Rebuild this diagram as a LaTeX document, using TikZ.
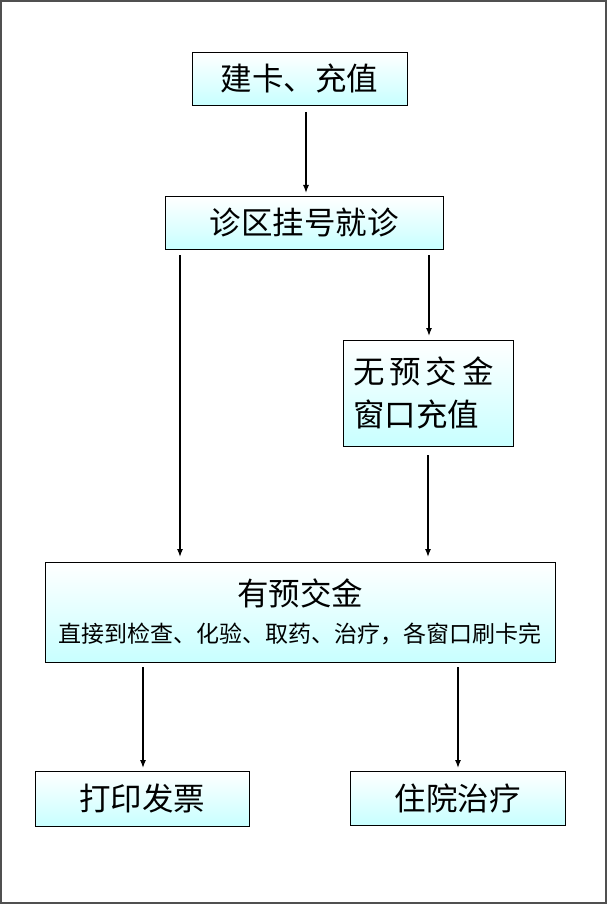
\documentclass[tikz,border=0pt]{standalone}
\usepackage{fontspec}
\usetikzlibrary{arrows.meta}
\setmainfont{Noto Sans CJK SC}
\definecolor{boxcyan}{RGB}{200,255,255}
\definecolor{framegray}{RGB}{80,80,80}
\begin{document}
\begin{tikzpicture}[x=1pt,y=-1pt,
  box/.style={draw=black,line width=0.8pt,top color=white,bottom color=boxcyan,inner sep=0pt},
  arr/.style={-{Latex[length=8pt,width=6pt]},line width=1.3pt}]
\useasboundingbox (0,0) rectangle (607,904);
\draw[framegray,line width=2pt] (1,1) rectangle (606,903);
\node[box,minimum width=215pt,minimum height=53pt,font=\fontsize{31.5}{31.5}\selectfont] (a) at (299.5,78.5) {建卡、充值};
\node[box,minimum width=278pt,minimum height=53pt,font=\fontsize{31.5}{31.5}\selectfont] (b) at (304,222.5) {诊区挂号就诊};
\node[box,minimum width=170pt,minimum height=106pt,text width=150pt,align=left,font=\fontsize{31.5}{43}\selectfont] (c) at (428,393) {无\hspace{5pt}预\hspace{5pt}交\hspace{5pt}金\\窗口充值};
\node[box,minimum width=510pt,minimum height=100pt,align=center] (d) at (300,612) {{\fontsize{31.5}{31.5}\selectfont 有预交金}\\[14pt]{\fontsize{23}{23}\selectfont 直接到检查、化验、取药、治疗，各窗口刷卡完}};
\node[box,minimum width=214pt,minimum height=55pt,font=\fontsize{31.5}{31.5}\selectfont] (e) at (142,798.5) {打印发票};
\node[box,minimum width=215pt,minimum height=54pt,font=\fontsize{31.5}{31.5}\selectfont] (f) at (457.5,798) {住院治疗};
\coordinate (a1) at (306,112); \coordinate (b0) at (306,193);
\coordinate (b1) at (180,255); \coordinate (d0) at (180,557);
\coordinate (b2) at (429,255); \coordinate (c0) at (429,336);
\coordinate (c1) at (428,455); \coordinate (d1) at (428,557);
\coordinate (d2) at (143,667); \coordinate (e0) at (143,768);
\coordinate (d3) at (458,667); \coordinate (f0) at (458,768);
\draw[arr] (a1) -- (b0);
\draw[arr] (b1) -- (d0);
\draw[arr] (b2) -- (c0);
\draw[arr] (c1) -- (d1);
\draw[arr] (d2) -- (e0);
\draw[arr] (d3) -- (f0);
\end{tikzpicture}
\end{document}
